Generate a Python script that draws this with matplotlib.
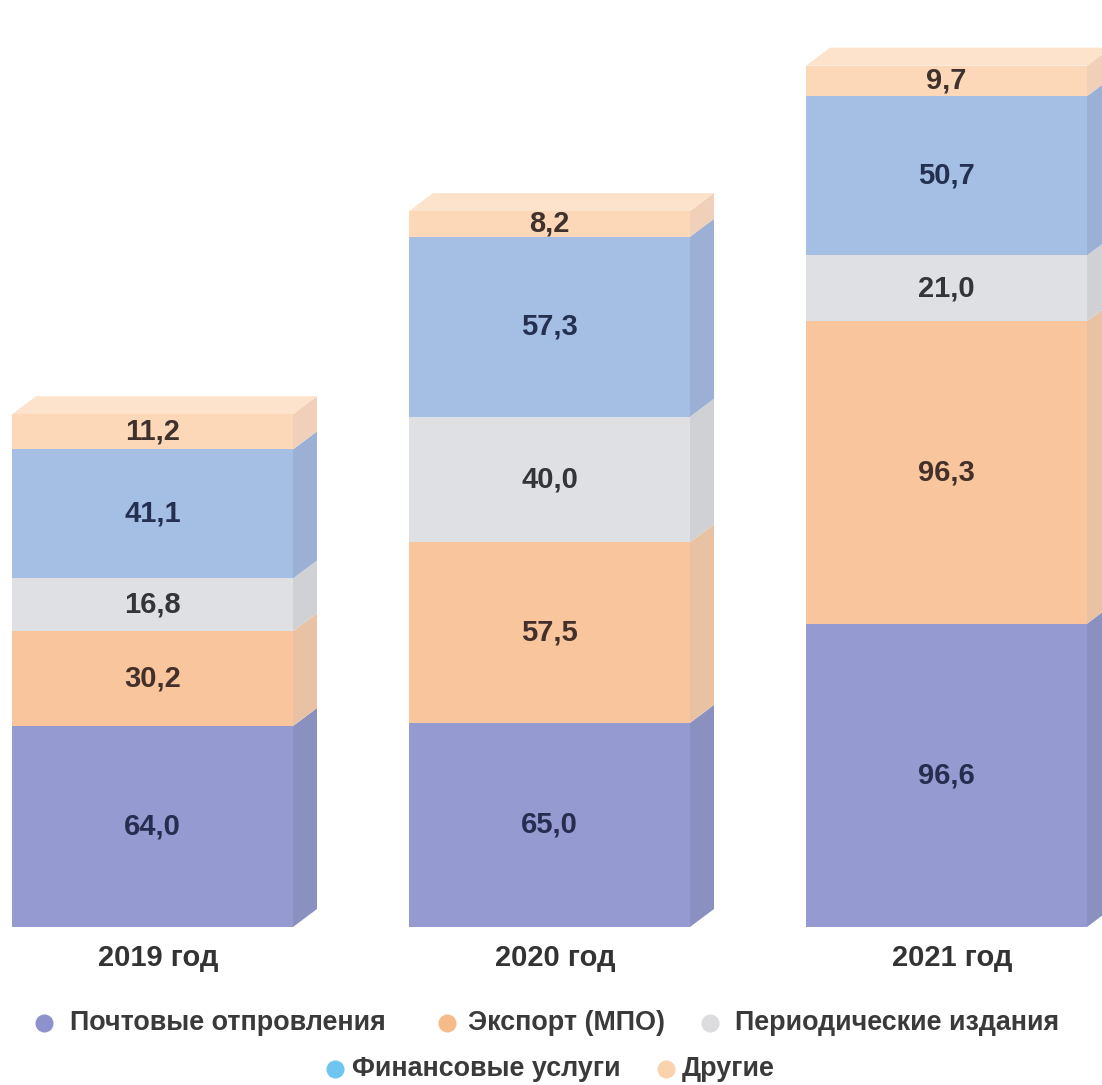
import matplotlib.pyplot as plt
from matplotlib.patches import Polygon
import numpy as np

plt.rcParams['font.family'] = ['Liberation Sans', 'DejaVu Sans']

years = ['2019 год', '2020 год', '2021 год']
series = ['Почтовые отпровления', 'Экспорт (МПО)', 'Периодические издания',
          'Финансовые услуги', 'Другие']

pochta = [64.0, 65.0, 96.6]
export = [30.2, 57.5, 96.3]
periodika = [16.8, 40.0, 21.0]
finansy = [41.1, 57.3, 50.7]
drugie = [11.2, 8.2, 9.7]

# цвета: лицевая грань, боковая грань, маркер легенды, цвет подписи
front = ['#959ad0', '#f9c59c', '#dfe0e3', '#a5bee4', '#fcd8b8']
side = ['#8a91c0', '#e9c2a4', '#d0d1d5', '#9bb0d4', '#f0d0b8']
marker = ['#8e92cc', '#f7bb8a', '#dcdcdf', '#6ec6f0', '#f9d3ad']
label_col = ['#262d4f', '#43302a', '#333538', '#233050', '#3f312c']
top_col = '#fde3cc'

W, H = 1102, 1085
fig = plt.figure(figsize=(W / 100, H / 100), dpi=100)
ax = fig.add_axes([0, 0, 1, 1])

step_px = 397.0   # расстояние между столбиками
k = 3.14          # пикселей на единицу
base_px = 927.0   # низ столбиков от верха
x_left_px = 152.5
ax.set_xlim(-x_left_px / step_px, (W - x_left_px) / step_px)
ax.set_ylim(-(H - base_px) / k, base_px / k)
ax.axis('off')

x = np.arange(len(years))
width = 281 / step_px
dx = 24 / step_px
dy = 18 / k

data = [pochta, export, periodika, finansy, drugie]
bottom = np.zeros(len(years))
for i, vals in enumerate(data):
    vals = np.array(vals)
    ax.bar(x, vals, width, bottom=bottom, color=front[i], linewidth=0, zorder=2)
    for j in range(len(years)):
        xr = x[j] + width / 2
        b, t = bottom[j], bottom[j] + vals[j]
        ax.add_patch(Polygon([(xr, b), (xr + dx, b + dy), (xr + dx, t + dy), (xr, t)],
                             closed=True, facecolor=side[i], edgecolor='none', zorder=1))
        if i == len(data) - 1:
            xl = x[j] - width / 2
            ax.add_patch(Polygon([(xl, t), (xl + dx, t + dy), (xr + dx, t + dy), (xr, t)],
                                 closed=True, facecolor=top_col, edgecolor='none', zorder=1))
        ax.text(x[j], b + vals[j] / 2, f'{vals[j]:.1f}'.replace('.', ','),
                ha='center', va='center', fontsize=21, fontweight='bold',
                color=label_col[i], zorder=3)
    bottom += vals

for j, y in enumerate(years):
    ax.text(x[j] + 0.015, -31 / k, y, ha='center', va='center',
            fontsize=21, fontweight='bold', color='#333333')

# легенда в две строки
legend_pos = [(44, 70, 1023), (447, 468, 1023), (710, 735, 1023),
              (335, 352, 1069), (666, 682, 1069)]
for i, (cx, tx, cy) in enumerate(legend_pos):
    ax.plot([cx / W], [1 - cy / H], 'o', ms=13, color=marker[i], mec='none',
            transform=fig.transFigure, clip_on=False)
    fig.text(tx / W, 1 - cy / H, series[i], ha='left', va='center',
             fontsize=19.4, fontweight='bold', color='#3a3a3a')

fig.savefig('out.png', dpi=100, facecolor='white')
plt.close(fig)
